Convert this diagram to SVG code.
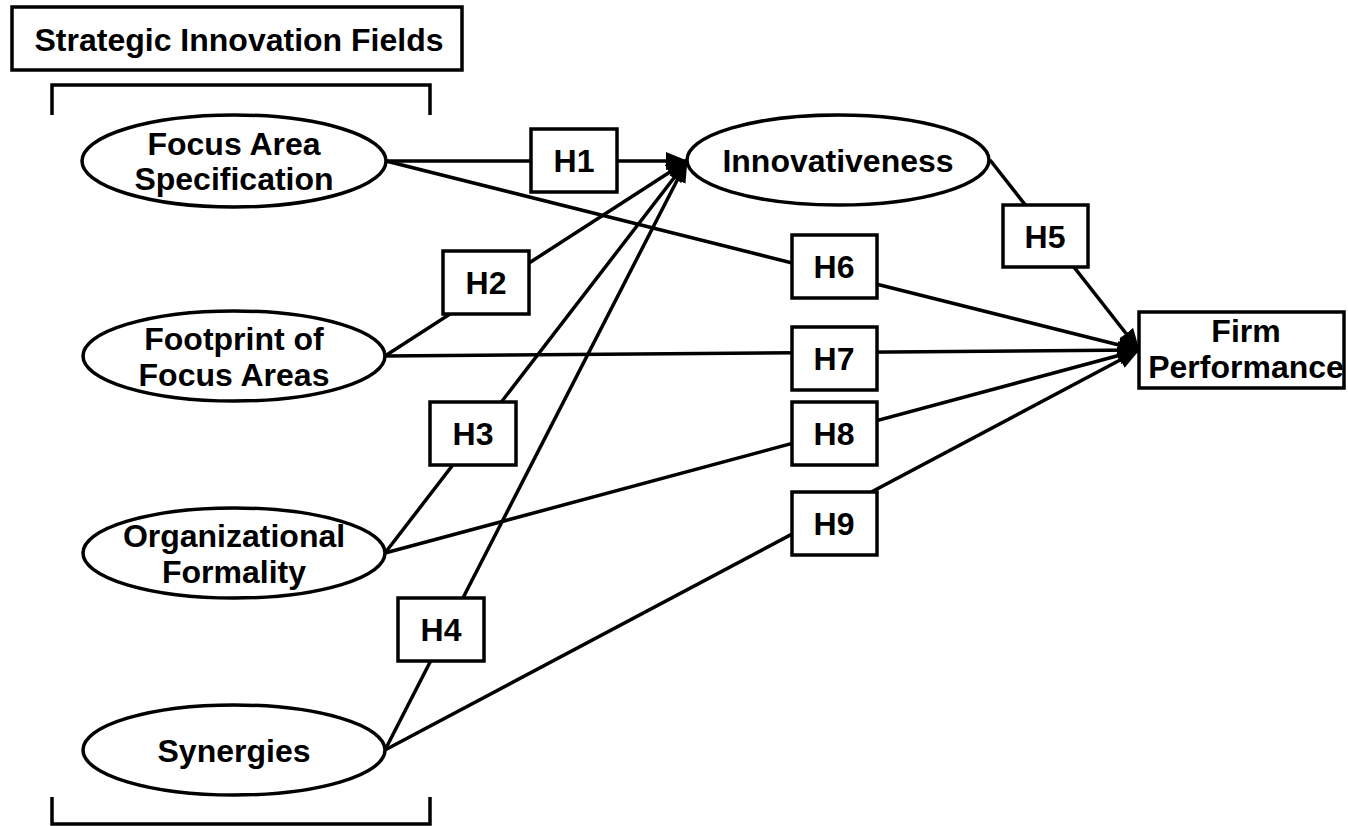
<svg xmlns="http://www.w3.org/2000/svg" width="1348" height="826" viewBox="0 0 1348 826">
  <style>
    .shape { fill: #ffffff; stroke: #000000; stroke-width: 3.5; }
    .bracket { fill: none; stroke: #000000; stroke-width: 3.5; }
    .link { fill: none; stroke: #000000; stroke-width: 3.5; marker-end: url(#arrow); }
    text { font-family: "Liberation Sans", Arial, sans-serif; font-weight: bold; font-size: 32px; fill: #000000; text-anchor: middle; }
  </style>
  <defs>
    <marker id="arrow" markerUnits="userSpaceOnUse" markerWidth="22" markerHeight="18" viewBox="0 0 22 18" refX="21" refY="9" orient="auto">
      <path d="M0,0 L22,9 L0,18 Z" fill="#000000"/>
    </marker>
  </defs>

  <rect width="1348" height="826" fill="#ffffff"/>

  <!-- heading and brackets around the four antecedents -->
  <g id="title">
    <rect class="shape" x="12" y="7" width="450" height="63"/>
    <text x="239" y="51">Strategic Innovation Fields</text>
  </g>
  <g id="brackets">
    <path class="bracket" d="M52,115 V85 H430 V115"/>
    <path class="bracket" d="M52,797 V824 H430 V797"/>
  </g>

  <!-- hypothesised paths -->
  <g id="connectors">
    <line class="link" x1="386" y1="161" x2="687" y2="161"/>
    <line class="link" x1="385" y1="356" x2="687" y2="161"/>
    <line class="link" x1="385" y1="553" x2="687" y2="161"/>
    <line class="link" x1="385" y1="750" x2="687" y2="161"/>
    <line class="link" x1="990" y1="160" x2="1139" y2="350"/>
    <line class="link" x1="386" y1="161" x2="1139" y2="350"/>
    <line class="link" x1="385" y1="356" x2="1139" y2="350"/>
    <line class="link" x1="385" y1="553" x2="1139" y2="350"/>
    <line class="link" x1="385" y1="750" x2="1139" y2="350"/>
  </g>

  <!-- constructs -->
  <g id="focus-area-specification">
    <ellipse class="shape" cx="234" cy="161" rx="152" ry="46"/>
    <text x="234" y="155">Focus Area</text>
    <text x="234" y="190">Specification</text>
  </g>
  <g id="footprint-of-focus-areas">
    <ellipse class="shape" cx="234" cy="356" rx="151" ry="45"/>
    <text x="234" y="350">Footprint of</text>
    <text x="234" y="386">Focus Areas</text>
  </g>
  <g id="organizational-formality">
    <ellipse class="shape" cx="234" cy="553" rx="151" ry="45"/>
    <text x="234" y="547">Organizational</text>
    <text x="234" y="583">Formality</text>
  </g>
  <g id="synergies">
    <ellipse class="shape" cx="234" cy="750" rx="151" ry="45"/>
    <text x="234" y="762">Synergies</text>
  </g>
  <g id="innovativeness">
    <ellipse class="shape" cx="838" cy="160" rx="151" ry="45"/>
    <text x="838" y="172">Innovativeness</text>
  </g>
  <g id="firm-performance">
    <rect class="shape" x="1139" y="312" width="205" height="76"/>
    <text x="1246" y="342">Firm</text>
    <text x="1246" y="378">Performance</text>
  </g>

  <!-- hypothesis labels -->
  <g id="h1"><rect class="shape" x="531" y="129" width="86" height="63"/><text x="574" y="172">H1</text></g>
  <g id="h2"><rect class="shape" x="443" y="251" width="86" height="63"/><text x="486" y="294">H2</text></g>
  <g id="h3"><rect class="shape" x="430" y="402" width="86" height="63"/><text x="473" y="445">H3</text></g>
  <g id="h4"><rect class="shape" x="398" y="598" width="86" height="63"/><text x="441" y="641">H4</text></g>
  <g id="h5"><rect class="shape" x="1003" y="205" width="85" height="62"/><text x="1045" y="248">H5</text></g>
  <g id="h6"><rect class="shape" x="792" y="235" width="85" height="63"/><text x="834" y="278">H6</text></g>
  <g id="h7"><rect class="shape" x="792" y="327" width="85" height="63"/><text x="834" y="370">H7</text></g>
  <g id="h8"><rect class="shape" x="792" y="402" width="85" height="63"/><text x="834" y="445">H8</text></g>
  <g id="h9"><rect class="shape" x="792" y="492" width="85" height="63"/><text x="834" y="535">H9</text></g>
</svg>
